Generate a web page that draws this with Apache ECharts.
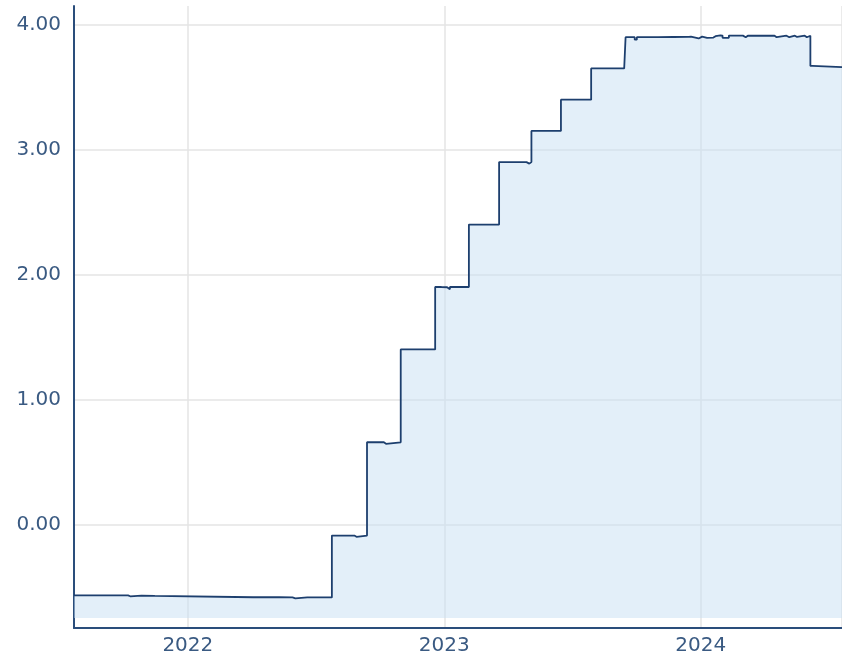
<!DOCTYPE html>
<html>
<head>
<meta charset="utf-8">
<script src="https://cdn.jsdelivr.net/npm/echarts@6/dist/echarts.min.js"></script>
<style>
html,body{margin:0;padding:0;background:#fff;}
#chart{width:842px;height:661px;}
</style>
</head>
<body>
<div id="chart"></div>
<script>
// Change points (value holds from date until next date)
const dates = [
  '2021-07-23','2021-08-09','2021-08-11','2021-08-30','2021-09-01','2021-09-20','2021-09-22',
  '2021-10-08','2021-10-11','2021-10-27','2021-10-29','2021-11-15',
  '2022-04-04','2022-04-06','2022-04-25','2022-04-27','2022-05-11','2022-05-13',
  '2022-05-30','2022-06-03','2022-06-20','2022-06-22',
  '2022-07-25','2022-08-26','2022-08-29',
  '2022-09-13','2022-10-07','2022-10-10',
  '2022-10-31','2022-11-23','2022-11-25',
  '2022-12-19','2022-12-28','2022-12-30','2023-01-05','2023-01-09','2023-01-26','2023-01-28',
  '2023-02-05','2023-03-01','2023-03-03',
  '2023-03-20','2023-04-28','2023-05-02',
  '2023-05-05','2023-05-18','2023-05-20','2023-05-24','2023-05-26',
  '2023-06-16','2023-07-13','2023-07-15',
  '2023-07-29','2023-08-16','2023-08-18','2023-08-28','2023-08-30','2023-09-07','2023-09-09','2023-09-14',
  '2023-09-16','2023-09-29','2023-10-02','2023-11-01','2023-11-03','2023-11-23','2023-11-25',
  '2023-12-15','2023-12-18','2023-12-29','2024-01-03','2024-01-10','2024-01-12','2024-01-19','2024-01-22',
  '2024-01-29','2024-02-01','2024-02-10','2024-03-01','2024-03-05','2024-03-08',
  '2024-03-13','2024-04-15','2024-04-18','2024-05-02','2024-05-06','2024-05-14','2024-05-17','2024-05-28','2024-05-31',
  '2024-06-05','2024-06-08','2024-07-20'
];
const rates = [
  -0.568,-0.575,-0.568,-0.575,-0.568,-0.576,-0.569,
  -0.576,-0.570,-0.578,-0.572,-0.584,
  -0.592,-0.584,-0.590,-0.584,-0.594,-0.585,
  -0.592,-0.585,-0.590,-0.585,
  -0.090,-0.100,-0.090,
  0.657,0.645,0.657,
  1.400,1.390,1.400,
  1.900,1.885,1.898,1.882,1.900,1.890,1.900,
  2.400,2.388,2.400,
  2.900,2.888,2.900,
  3.150,3.162,3.150,3.162,3.150,
  3.400,3.390,3.400,
  3.650,3.640,3.650,3.640,3.650,3.640,3.650,3.640,
  3.900,3.880,3.900,3.888,3.902,3.890,3.903,
  3.904,3.890,3.905,3.895,3.906,3.897,3.908,3.915,
  3.913,3.895,3.913,3.900,3.912,3.913,
  3.912,3.900,3.912,3.900,3.912,3.902,3.912,3.900,3.912,
  3.670,3.660,3.660
];
const yTicks = [0, 1, 2, 3, 4];

const seriesData = dates.map((d, i) => [d, rates[i]]);

const chart = echarts.init(document.getElementById('chart'), null, {renderer: 'canvas'});
const labelColor = '#3a5a82';
const axisColor = '#2a4d7b';
chart.setOption({
  animation: false,
  backgroundColor: '#ffffff',
  grid: {left: 74, right: 0, top: 6, bottom: 33, containLabel: false},
  xAxis: {
    type: 'time',
    min: '2021-07-23',
    max: '2024-07-20',
    minInterval: 365 * 86400000,
    maxInterval: 366 * 86400000,
    axisLine: {show: true, onZero: false, lineStyle: {color: axisColor, width: 2}},
    axisTick: {show: false},
    splitLine: {show: true, lineStyle: {color: '#e4e4e4', width: 1.5}},
    axisLabel: {
      color: labelColor, fontFamily: 'DejaVu Sans', fontSize: 20, margin: 8,
      showMinLabel: false, showMaxLabel: false,
      formatter: function (v) { return String(new Date(v).getFullYear()); }
    }
  },
  yAxis: {
    type: 'value',
    min: -0.83,
    max: 4.15,
    interval: 1,
    axisLine: {show: true, onZero: false, lineStyle: {color: axisColor, width: 2}},
    axisTick: {show: false, customValues: yTicks},
    splitLine: {show: true, lineStyle: {color: '#e4e4e4', width: 1.5}},
    axisLabel: {
      color: labelColor, fontFamily: 'DejaVu Sans', fontSize: 20, margin: 13,
      customValues: yTicks,
      formatter: function (v) { return v.toFixed(2); }
    }
  },
  series: [{
    type: 'line',
    step: 'end',
    data: seriesData,
    showSymbol: false,
    lineStyle: {color: '#1d3f6e', width: 1.8},
    areaStyle: {color: 'rgb(199,223,243)', opacity: 0.5, origin: -0.75},
    z: 3
  }]
});
</script>
</body>
</html>
